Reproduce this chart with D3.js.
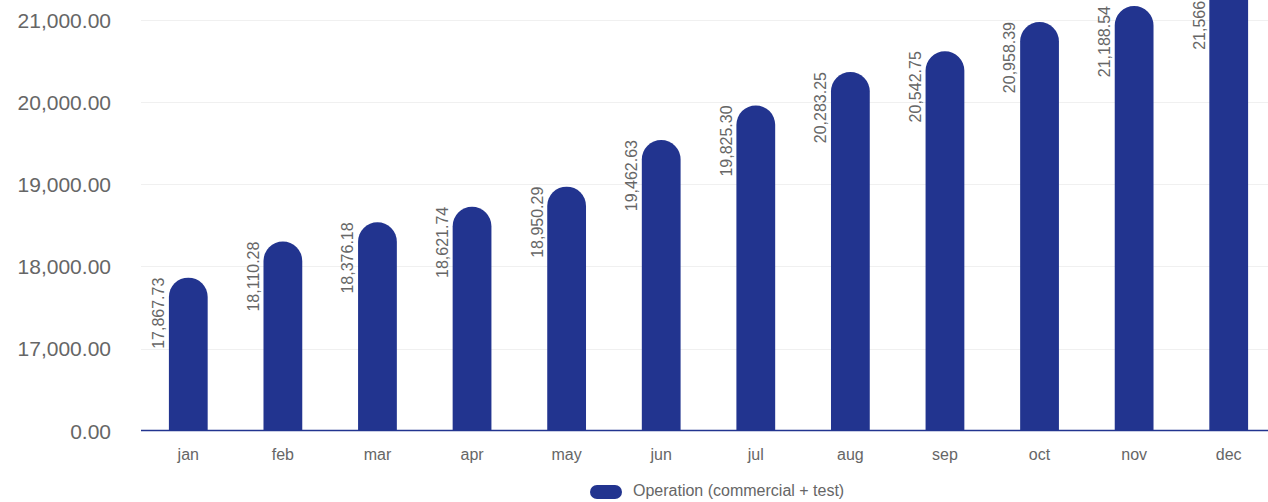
<!DOCTYPE html>
<html>
<head>
<meta charset="utf-8">
<script src="https://cdn.jsdelivr.net/npm/d3@7"></script>
<style>
  html, body { margin: 0; padding: 0; background: #ffffff; overflow: hidden; }
  svg { display: block; font-family: Arial, "Liberation Sans", sans-serif; }
</style>
</head>
<body>
<svg id="chart" width="1268" height="502"></svg>
<script>
// ---- data ----
const months = ["jan","feb","mar","apr","may","jun","jul","aug","sep","oct","nov","dec"];
const barValues = [17863, 18302, 18536, 18726, 18971, 19539, 19960, 20367, 20620, 20976, 21170, 21504];
// data labels as printed on the bars
const valueLabels = ["17,867.73","18,110.28","18,376.18","18,621.74","18,950.29","19,462.63","19,825.30","20,283.25","20,542.75","20,958.39","21,188.54","21,566.40"];
const yTicks = [0, 17000, 18000, 19000, 20000, 21000];
const seriesName = "Operation (commercial + test)";

// ---- layout ----
const svg = d3.select("#chart");
const barColor = "#22348f";
const textColor = "#666666";

const x = d3.scaleBand()
  .domain(months)
  .range([141, 1276])
  .paddingInner(0.59)
  .paddingOuter(0.295);

// broken axis: 0 .. 17,000 compressed into one tick step
const y = d3.scaleLinear()
  .domain([0, 17000, 21000])
  .range([431, 348.5, 20]);

// gridlines
svg.append("g")
  .selectAll("line")
  .data(yTicks.filter(d => d > 0))
  .join("line")
  .attr("x1", 141).attr("x2", 1268)
  .attr("y1", d => Math.round(y(d)) + 0.5)
  .attr("y2", d => Math.round(y(d)) + 0.5)
  .attr("stroke", "#f0f0f0")
  .attr("stroke-width", 1);

// y axis labels
const yAxis = d3.axisLeft(y)
  .tickValues(yTicks)
  .tickSize(0)
  .tickPadding(0)
  .tickFormat(d3.format(",.2f"));
const yg = svg.append("g").attr("transform", "translate(111,0)").call(yAxis);
yg.select(".domain").remove();
yg.selectAll("text")
  .attr("fill", textColor)
  .attr("font-size", 21)
  .attr("font-family", "Arial, 'Liberation Sans', sans-serif")
  .attr("x", 0)
  .attr("dy", "0.35em");

// bars with rounded tops
const bw = x.bandwidth();
const r = bw / 2;
svg.append("g")
  .selectAll("path")
  .data(months.map((m, i) => ({ m, v: barValues[i] })))
  .join("path")
  .attr("fill", barColor)
  .attr("d", d => {
    const x0 = x(d.m), top = y(d.v), base = y(0);
    return `M${x0},${base} V${top + r} A${r},${r} 0 0 1 ${x0 + bw},${top + r} V${base} Z`;
  });

// x axis line
svg.append("line")
  .attr("x1", 141).attr("x2", 1268)
  .attr("y1", 430.5).attr("y2", 430.5)
  .attr("stroke", barColor)
  .attr("stroke-width", 1.5);

// x axis labels
const xAxis = d3.axisBottom(x).tickSize(0).tickPadding(0);
const xg = svg.append("g").attr("transform", "translate(0,0)").call(xAxis);
xg.select(".domain").remove();
xg.selectAll("text")
  .attr("fill", textColor)
  .attr("font-size", 16)
  .attr("font-family", "Arial, 'Liberation Sans', sans-serif")
  .attr("y", 460)
  .attr("dy", 0);

// value labels (rotated)
svg.append("g")
  .selectAll("text")
  .data(months.map((m, i) => ({ m, v: barValues[i], t: valueLabels[i] })))
  .join("text")
  .attr("transform", d => `translate(${x(d.m) - 4.7},${y(d.v)}) rotate(-90)`)
  .attr("text-anchor", "end")
  .attr("font-size", 16)
  .attr("fill", textColor)
  .text(d => d.t);

// legend
const lg = svg.append("g");
lg.append("rect")
  .attr("x", 590).attr("y", 485)
  .attr("width", 32).attr("height", 14)
  .attr("rx", 7).attr("ry", 7)
  .attr("fill", barColor);
lg.append("text")
  .attr("x", 633).attr("y", 496)
  .attr("font-size", 16)
  .attr("fill", textColor)
  .text(seriesName);
</script>
</body>
</html>
